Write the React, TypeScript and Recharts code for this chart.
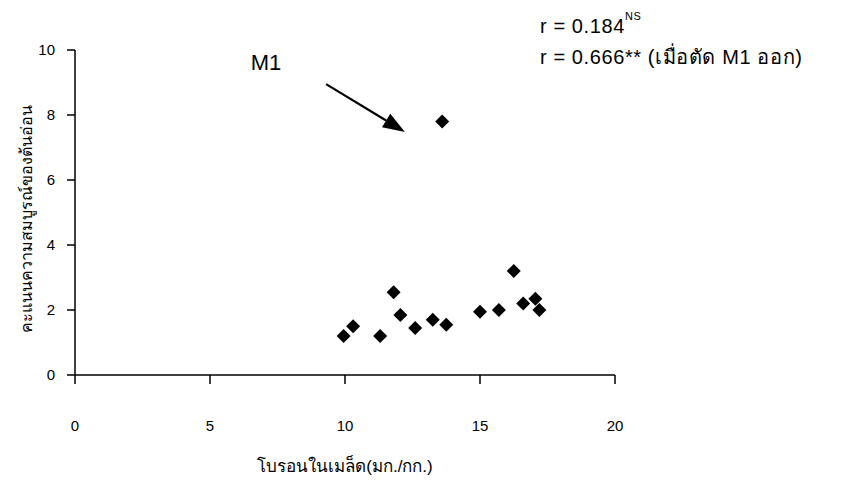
import {
  ReferenceLine,
  Scatter,
  ScatterChart,
  XAxis,
  YAxis,
} from "recharts";

// boron in seed (mg/kg) vs seedling vigour score; last point is M1
const boron = [9.95, 10.3, 11.3, 11.8, 12.05, 12.6, 13.25, 13.75, 15.0, 15.7, 16.25, 16.6, 17.05, 17.2, 13.6];
const score = [1.2, 1.5, 1.2, 2.55, 1.85, 1.45, 1.7, 1.55, 1.95, 2.0, 3.2, 2.2, 2.35, 2.0, 7.8];

const xTicks = [0, 5, 10, 15, 20];
const yTicks = [0, 2, 4, 6, 8, 10];

// arrow pointing at M1 (data coords)
const arrowFrom = { x: 9.3, y: 8.95 };
const arrowTo = { x: 12.22, y: 7.48 };

const points = boron.map((x, i) => ({ x, y: score[i] }));

const FONT = '"Liberation Sans", Arial, sans-serif';

const Diamond = (props: any) => {
  const { cx, cy } = props;
  const h = 7;
  return (
    <polygon
      points={`${cx},${cy - h} ${cx + h},${cy} ${cx},${cy + h} ${cx - h},${cy}`}
      fill="#000"
    />
  );
};

const Arrow = (props: any) => {
  const { x1, y1, x2, y2 } = props;
  const dx = x2 - x1;
  const dy = y2 - y1;
  const len = Math.sqrt(dx * dx + dy * dy);
  const ux = dx / len;
  const uy = dy / len;
  const headLen = 22;
  const headW = 8;
  const bx = x2 - ux * headLen;
  const by = y2 - uy * headLen;
  return (
    <g>
      <line x1={x1} y1={y1} x2={bx} y2={by} stroke="#000" strokeWidth={2.2} />
      <polygon
        points={`${x2},${y2} ${bx - uy * headW},${by + ux * headW} ${bx + uy * headW},${by - ux * headW}`}
        fill="#000"
      />
    </g>
  );
};

export default function App() {
  return (
    <div style={{ position: "relative", width: 851, height: 481, fontFamily: FONT }}>
      <style>{"body{margin:0}"}</style>
      <ScatterChart
        width={851}
        height={481}
        margin={{ top: 50, right: 236, left: 0, bottom: 0 }}
      >
        <XAxis
          type="number"
          dataKey="x"
          domain={[0, 20]}
          ticks={xTicks}
          height={106}
          tickSize={9}
          tickMargin={36}
          axisLine={{ stroke: "#000", strokeWidth: 1.5 }}
          tickLine={{ stroke: "#000", strokeWidth: 1.5 }}
          tick={{ fill: "#000", fontSize: 15, fontFamily: FONT }}
          label={{
            content: (p: any) => {
              const vb = p.viewBox;
              return (
                <text
                  x={vb.x + vb.width / 2}
                  y={472}
                  textAnchor="middle"
                  fontSize={17}
                  fill="#000"
                >
                  โบรอนในเมล็ด(มก./กก.)
                </text>
              );
            },
          }}
        />
        <YAxis
          type="number"
          dataKey="y"
          domain={[0, 10]}
          ticks={yTicks}
          width={75}
          tickSize={8}
          tickMargin={12}
          axisLine={{ stroke: "#000", strokeWidth: 1.5 }}
          tickLine={{ stroke: "#000", strokeWidth: 1.5 }}
          tick={{ fill: "#000", fontSize: 15, fontFamily: FONT }}
          label={{
            content: (p: any) => {
              const vb = p.viewBox;
              const cx = 28;
              const cy = vb.y + vb.height / 2 + 6;
              return (
                <text
                  x={cx}
                  y={cy}
                  textAnchor="middle"
                  dominantBaseline="middle"
                  fontSize={16}
                  fill="#000"
                  transform={`rotate(-90, ${cx}, ${cy})`}
                >
                  คะแนนความสมบูรณ์ของต้นอ่อน
                </text>
              );
            },
          }}
        />
        <ReferenceLine segment={[arrowFrom, arrowTo]} shape={Arrow} />
        <Scatter data={points} shape={Diamond} isAnimationActive={false} />
      </ScatterChart>
      <svg
        width={851}
        height={481}
        style={{ position: "absolute", left: 0, top: 0, pointerEvents: "none" }}
        fontFamily={FONT}
      >
        <text x={266} y={70} textAnchor="middle" fontSize={22} fill="#000">
          M1
        </text>
        <text x={540} y={33} fontSize={20} letterSpacing={0.6} fill="#000">
          r = 0.184
          <tspan fontSize={11} dy={-13}>NS</tspan>
        </text>
        <text x={540} y={64} fontSize={20} letterSpacing={0.6} fill="#000">
          r = 0.666** (เมื่อตัด M1 ออก)
        </text>
      </svg>
    </div>
  );
}
